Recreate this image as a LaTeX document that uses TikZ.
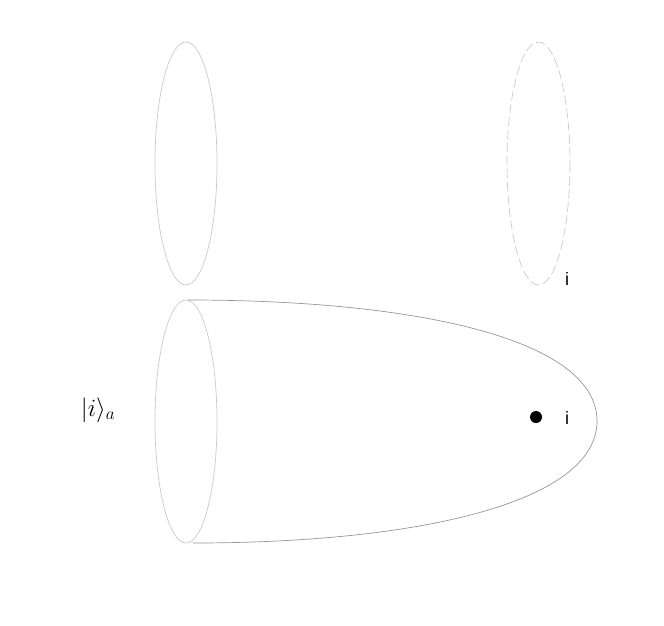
\documentclass[tikz,border=0pt]{standalone}
\usepackage{fontspec}
\newfontfamily\labelfont{Liberation Sans}
\definecolor{rimgray}{HTML}{CACACA}
\definecolor{tubegray}{HTML}{979797}
\begin{document}
\begin{tikzpicture}[x=1pt, y=-1pt, line join=round, line cap=round,
  rim/.style={draw=rimgray, line width=0.7pt},
  lbl/.style={font=\labelfont\fontsize{18}{20}\selectfont, inner sep=0pt}]
\useasboundingbox (0,0) rectangle (664,625);
\path (186,163.5) coordinate (L) (538.5,163.5) coordinate (R) (186,421.5) coordinate (B)
  (188,300) coordinate (T1) (597,421) coordinate (tip) (193,543) coordinate (T2)
  (536,417) coordinate (P);
\draw[rim] (L) ellipse [x radius=31, y radius=121.5];
\draw[rim, dash pattern=on 9pt off 4pt] (R) ellipse [x radius=31.5, y radius=121.5];
\draw[rim] (B) ellipse [x radius=31, y radius=121.5];
\draw[tubegray, line width=0.7pt] (T1) .. controls (420,300) and (597,340) .. (tip)
  .. controls (597,502) and (420,543) .. (T2);
\fill (P) circle (6);
\node[lbl] (iP) at (567,418) {i};
\node[lbl] (iR) at (567,279) {i};
\node[font=\fontsize{26}{30}\selectfont, inner sep=0pt] (ket) at (98,410) {$|i\rangle_a$};
\end{tikzpicture}
\end{document}
